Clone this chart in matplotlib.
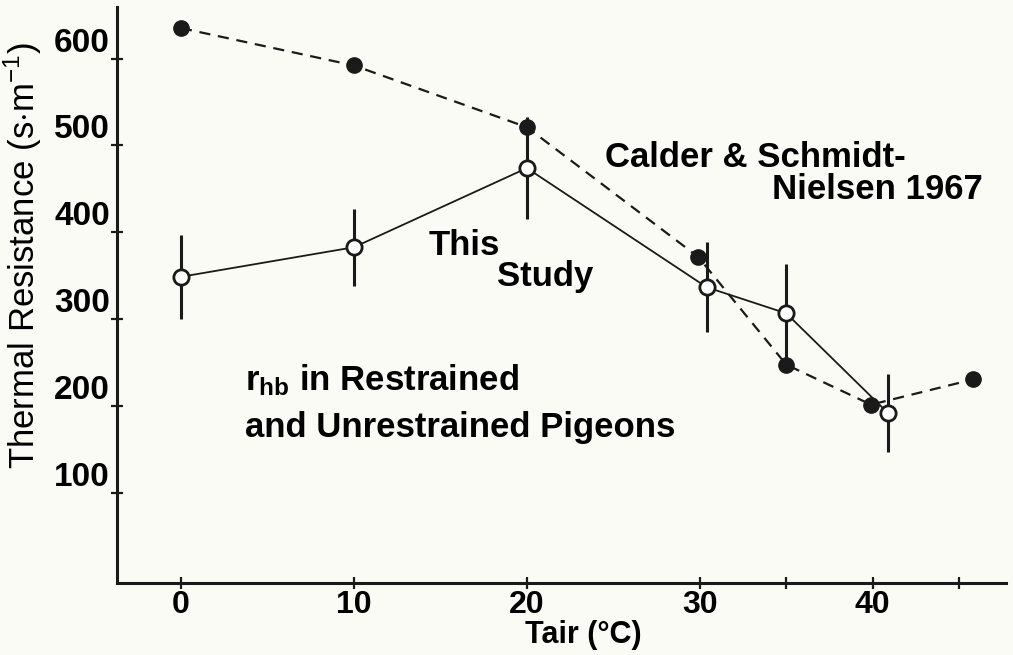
import numpy as np
import matplotlib
matplotlib.use('Agg')
import matplotlib.pyplot as plt

plt.rcParams['font.family'] = ['Liberation Sans', 'DejaVu Sans']
plt.rcParams['mathtext.fontset'] = 'custom'
plt.rcParams['mathtext.rm'] = 'Liberation Sans'
plt.rcParams['mathtext.bf'] = 'Liberation Sans:bold'

# Calder & Schmidt-Nielsen 1967 (filled circles)
t_calder = [0, 10, 20, 29.9, 35, 39.9, 45.8]
r_calder = [635, 592, 521, 372, 248, 202, 231]

# this study (open circles, with error bars)
t_study = [0, 10, 20, 30.4, 35, 40.9]
r_study = [349, 383, 474, 337, 307, 192]
r_err = [48, 44, 59, 52, 57, 45]

xticks = [0, 10, 20, 30, 35, 40, 45]
xticklabels = ['0', '10', '20', '30', '', '40', '']
yticks = [100, 200, 300, 400, 500, 600]

bg = '#fbfbf6'
ink = '#1a1a1a'
fig, ax = plt.subplots(figsize=(10.13, 6.55), dpi=100)
fig.patch.set_facecolor(bg)
ax.set_facecolor(bg)
fig.subplots_adjust(left=0.1155, right=0.993, bottom=0.11, top=0.989)

ax.plot(t_calder, r_calder, color=ink, lw=1.6, dashes=(5, 3.5),
        marker='o', ms=11, mfc=ink, mec=ink, zorder=3)
ax.errorbar(t_study, r_study, yerr=r_err, color=ink, lw=1.3, elinewidth=2.2,
            capsize=0, marker='o', ms=11, mfc='white', mec=ink, mew=2, zorder=4)

ax.set_xlim(-3.7, 47.7)
ax.set_ylim(-3, 659)
for s in ['top', 'right']:
    ax.spines[s].set_visible(False)
for s in ['left', 'bottom']:
    ax.spines[s].set_linewidth(2.2)
    ax.spines[s].set_color(ink)

ax.set_xticks(xticks)
ax.set_xticklabels(xticklabels, fontsize=23, fontweight='bold')
ax.set_yticks(yticks)
ax.set_yticklabels([str(v) for v in yticks], fontsize=24, fontweight='bold')
ax.tick_params(axis='both', direction='inout', length=8, width=1.6, color=ink)
ax.tick_params(axis='y', pad=1)
ax.tick_params(axis='x', pad=1)
for lab in ax.get_yticklabels():
    lab.set_verticalalignment('bottom')

ax.set_ylabel(r'Thermal Resistance (s$\cdot$m$^{-1}$)', fontsize=25)
ax.yaxis.set_label_coords(-0.082, 0.569)
ax.set_xlabel('Tair (\u00b0C)', fontsize=22, fontweight='bold')
ax.xaxis.set_label_coords(0.525, -0.064)

fs = 25
ax.text(24.5, 475, 'Calder & Schmidt-', fontsize=fs, fontweight='bold', va='baseline')
ax.text(34.2, 439, 'Nielsen 1967', fontsize=fs, fontweight='bold', va='baseline')
ax.text(14.3, 374, 'This', fontsize=fs, fontweight='bold', va='baseline')
ax.text(18.3, 339, 'Study', fontsize=fs, fontweight='bold', va='baseline')
ax.text(3.7, 219, r'$\mathbf{r_{hb}}$ in Restrained', fontsize=fs, fontweight='bold', va='baseline')
ax.text(3.7, 165, 'and Unrestrained Pigeons', fontsize=fs, fontweight='bold', va='baseline')

plt.savefig('out.png', dpi=100, facecolor=bg)
